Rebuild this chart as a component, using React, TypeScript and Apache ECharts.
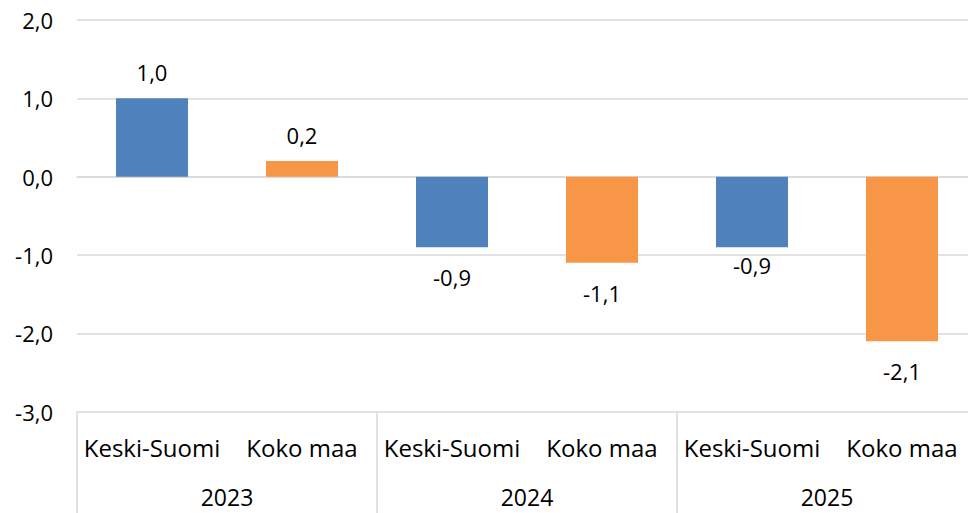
import React, { useEffect, useRef } from "react";
import * as echarts from "echarts";

const years = ["2023", "2024", "2025"];
const regions = ["Keski-Suomi", "Koko maa", "Keski-Suomi", "Koko maa", "Keski-Suomi", "Koko maa"];
const values = [1.0, 0.2, -0.9, -1.1, -0.9, -2.1];
const regionColors = ["#4F81BD", "#F79646"];

const FONT = "'Open Sans', sans-serif";
const fmt = (v: number) => v.toFixed(1).replace(".", ",");

export default function App() {
  const ref = useRef<HTMLDivElement>(null);
  useEffect(() => {
    const chart = echarts.init(ref.current!, null, { renderer: "svg" });
    chart.setOption({
      animation: false,
      textStyle: { fontFamily: FONT },
      grid: { left: 77, top: 20, width: 900, height: 391.7, containLabel: false },
      xAxis: [
        {
          type: "category",
          data: regions,
          position: "bottom",
          axisLine: { show: true, lineStyle: { color: "#D9D9D9", width: 1.5 } },
          axisTick: { show: false },
          axisLabel: { color: "#000", fontSize: 24, fontFamily: FONT, margin: 24, interval: 0 },
        },
        {
          type: "category",
          data: years,
          position: "bottom",
          axisLine: { show: false },
          axisTick: { show: true, length: 102, lineStyle: { color: "#D9D9D9", width: 1.5 } },
          axisLabel: { color: "#000", fontSize: 23, lineHeight: 21, fontFamily: FONT, margin: 75, interval: 0 },
        },
      ],
      yAxis: {
        type: "value",
        min: -3,
        max: 2,
        interval: 1,
        axisLine: { show: false },
        axisTick: { show: false },
        splitLine: { lineStyle: { color: "#D9D9D9", width: 1.5 } },
        axisLabel: { color: "#000", fontSize: 22, fontFamily: FONT, margin: 24, formatter: (v: number) => fmt(v) },
      },
      series: [
        {
          type: "bar",
          xAxisIndex: 0,
          barWidth: "48%",
          data: values.map((v, i) => ({
            value: v,
            itemStyle: { color: regionColors[i % 2] },
            label: {
              position: v >= 0 ? "top" : "bottom",
              distance: v >= 0 ? 15 : i === 4 ? 7 : 19,
            },
          })),
          label: {
            show: true,
            color: "#000",
            fontSize: 22,
            fontFamily: FONT,
            formatter: (p: any) => fmt(p.value),
          },
        },
      ],
    });
    return () => chart.dispose();
  }, []);
  return (
    <div style={{ position: "fixed", left: 0, top: 0, width: 968, height: 513, overflow: "hidden", background: "#fff" }}>
      <div ref={ref} style={{ width: 990, height: 513 }} />
    </div>
  );
}
